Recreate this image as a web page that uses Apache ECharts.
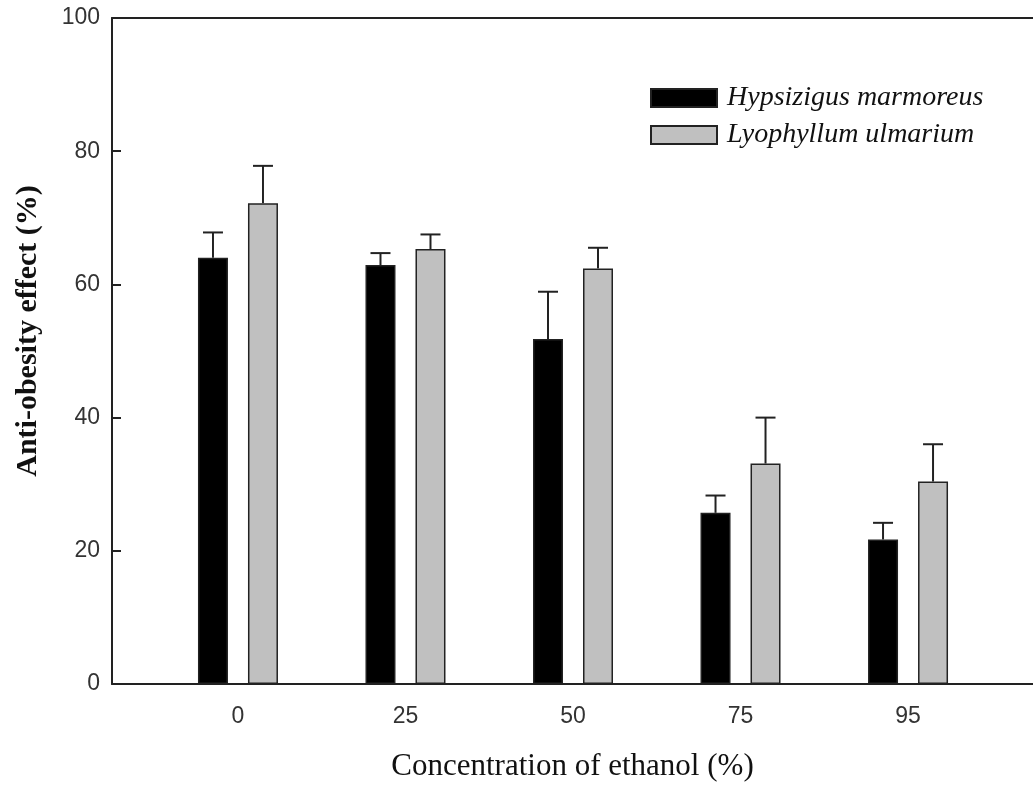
<!DOCTYPE html>
<html>
<head>
<meta charset="utf-8">
<script src="https://cdn.jsdelivr.net/npm/echarts@6/dist/echarts.min.js"></script>
<style>
  html, body { margin: 0; padding: 0; background: #fff; }
  #chart { width: 1033px; height: 787px; }
</style>
</head>
<body>
<div id="chart"></div>
<script>
// Ethanol concentrations of the extracts (x categories)
const categories = ['0', '25', '50', '75', '95'];
// Species shown as the two series
const speciesNames = ['Hypsizigus marmoreus', 'Lyophyllum ulmarium'];
// Mean anti-obesity effect (%) and standard deviation per species
const hypsizigusMean = [64.0, 62.9, 51.8, 25.7, 21.7];
const hypsizigusSD = [3.8, 1.8, 7.1, 2.6, 2.5];
const lyophyllumMean = [72.2, 65.3, 62.4, 33.1, 30.4];
const lyophyllumSD = [5.6, 2.2, 3.1, 6.9, 5.6];
const yTicks = [0, 20, 40, 60, 80, 100];

const BAR_W = 30;
const BAR_GAP = 20;
const OFFSET = (BAR_W + BAR_GAP) / 2;

function pairs(vals) { return vals.map((v, i) => [i, v]); }
function errData(mean, sd) { return mean.map((m, i) => [i, m, m + sd[i]]); }

function errorBar(shift) {
  return function (params, api) {
    const lo = api.coord([api.value(0), api.value(1)]);
    const hi = api.coord([api.value(0), api.value(2)]);
    const x = lo[0] + shift;
    const cap = 10;
    const st = { stroke: '#222', lineWidth: 2 };
    return {
      type: 'group',
      children: [
        { type: 'line', shape: { x1: x, y1: lo[1], x2: x, y2: hi[1] }, style: st },
        { type: 'line', shape: { x1: x - cap, y1: hi[1], x2: x + cap, y2: hi[1] }, style: st }
      ]
    };
  };
}

function legendRow(name, top) {
  return {
    left: 645, top: top,
    itemWidth: 66, itemHeight: 18,
    icon: 'rect',
    data: [name],
    textStyle: {
      fontFamily: 'Liberation Serif', fontStyle: 'italic',
      fontSize: 28, color: '#111', padding: [0, 0, 0, 5]
    }
  };
}

const chart = echarts.init(document.getElementById('chart'), null, { renderer: 'canvas' });
chart.setOption({
  backgroundColor: '#fff',
  animation: false,
  grid: { left: 112, top: 18, right: 0, bottom: 102, containLabel: false },
  legend: [legendRow(speciesNames[0], 79), legendRow(speciesNames[1], 116)],
  xAxis: [{
    type: 'value',
    min: -0.752, max: 4.746,
    name: 'Concentration of ethanol (%)',
    nameLocation: 'middle', nameGap: 67,
    nameTextStyle: { fontFamily: 'Liberation Serif', fontSize: 31, color: '#111' },
    axisLine: { show: true, lineStyle: { color: '#222', width: 2 } },
    axisTick: { show: false },
    splitLine: { show: false },
    axisLabel: {
      customValues: categories.map((c, i) => i),
      formatter: v => categories[Math.round(v)],
      margin: 21,
      fontFamily: 'Liberation Sans', fontSize: 23, color: '#333'
    }
  }, {
    type: 'value', position: 'top',
    min: -0.752, max: 4.746,
    axisLine: { show: true, onZero: false, lineStyle: { color: '#222', width: 2 } },
    axisTick: { show: false }, axisLabel: { show: false }, splitLine: { show: false }
  }],
  yAxis: {
    type: 'value', min: 0, max: 100, interval: 20,
    name: 'Anti-obesity effect (%)',
    nameLocation: 'middle', nameGap: 69,
    nameTextStyle: {
      fontFamily: 'Liberation Serif', fontWeight: 'bold', fontSize: 30, color: '#111',
      padding: [0, 0, 0, 40]
    },
    axisLine: { show: true, onZero: false, lineStyle: { color: '#222', width: 2 } },
    axisTick: {
      show: true, inside: true, length: 9, customValues: yTicks,
      lineStyle: { color: '#222', width: 2 }
    },
    splitLine: { show: false },
    axisLabel: {
      customValues: yTicks,
      margin: 12,
      fontFamily: 'Liberation Sans', fontSize: 23, color: '#333'
    }
  },
  series: [{
    name: speciesNames[0], type: 'bar',
    data: pairs(hypsizigusMean),
    barWidth: BAR_W, barGap: (BAR_GAP / BAR_W * 100) + '%',
    itemStyle: { color: '#000', borderColor: '#222', borderWidth: 1.5 }
  }, {
    name: speciesNames[1], type: 'bar',
    data: pairs(lyophyllumMean),
    barWidth: BAR_W, barGap: (BAR_GAP / BAR_W * 100) + '%',
    itemStyle: { color: '#c0c0c0', borderColor: '#222', borderWidth: 1.5 }
  }, {
    type: 'custom', renderItem: errorBar(-OFFSET),
    data: errData(hypsizigusMean, hypsizigusSD), z: 5,
    encode: { x: 0, y: [1, 2] }
  }, {
    type: 'custom', renderItem: errorBar(OFFSET),
    data: errData(lyophyllumMean, lyophyllumSD), z: 5,
    encode: { x: 0, y: [1, 2] }
  }]
});
</script>
</body>
</html>
